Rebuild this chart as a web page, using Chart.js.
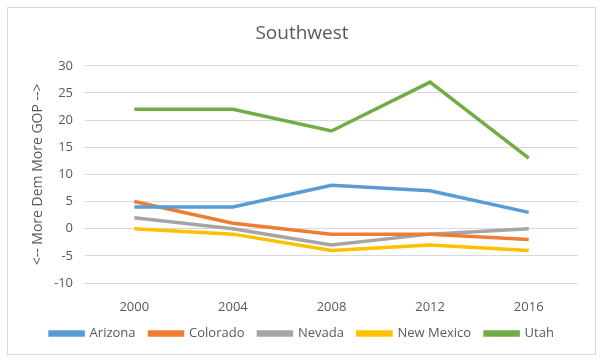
<!DOCTYPE html>
<html>
<head>
<meta charset="utf-8">
<script src="https://cdn.jsdelivr.net/npm/chart.js"></script>
<style>
  body { margin: 0; background: #fff; }
  #wrap { position: relative; width: 600px; height: 361px; }
  #frame { position: absolute; left: 7px; top: 7px; width: 587px; height: 346px; border: 1px solid #d9d9d9; pointer-events: none; }
</style>
</head>
<body>
<div id="wrap">
  <canvas id="chart" width="600" height="361"></canvas>
  <div id="frame"></div>
</div>
<script>
// Dados do gráfico
const years = ['2000', '2004', '2008', '2012', '2016'];
const arizona = [4, 4, 8, 7, 3];
const colorado = [5, 1, -1, -1, -2];
const nevada = [2, 0, -3, -1, 0];
const newMexico = [0, -1, -4, -3, -4];
const utah = [22, 22, 18, 27, 13];

const textColor = '#595959';
const fontFamily = '"Open Sans", "Liberation Sans", sans-serif';

function serie(label, data, color) {
    return {
        label: label,
        data: data,
        borderColor: color,
        backgroundColor: color,
        borderWidth: 3.5,
        pointRadius: 0,
        tension: 0
    };
}

new Chart(document.getElementById('chart'), {
    type: 'line',
    data: {
        labels: years,
        datasets: [
            serie('Arizona', arizona, '#5b9bd5'),
            serie('Colorado', colorado, '#ed7d31'),
            serie('Nevada', nevada, '#a5a5a5'),
            serie('New Mexico', newMexico, '#ffc000'),
            serie('Utah', utah, '#70ad47')
        ]
    },
    options: {
        responsive: false,
        animation: false,
        layout: { padding: { left: 26, right: 22, top: 0, bottom: 11 } },
        plugins: {
            title: {
                display: true,
                text: 'Southwest',
                color: textColor,
                font: { family: fontFamily, size: 19, weight: 'normal' },
                padding: { top: 22, bottom: 21 }
            },
            legend: {
                position: 'bottom',
                labels: {
                    color: textColor,
                    font: { family: fontFamily, size: 13 },
                    boxWidth: 33,
                    boxHeight: 3,
                    padding: 14
                }
            },
            tooltip: { enabled: false }
        },
        scales: {
            x: {
                offset: true,
                grid: { display: false },
                border: { display: false },
                ticks: { color: textColor, font: { family: fontFamily, size: 13 }, padding: 8 },
                afterFit: function(s) { s.height = 30; }
            },
            y: {
                min: -10,
                max: 30,
                ticks: { stepSize: 5, color: textColor, font: { family: fontFamily, size: 13 }, padding: 12 },
                grid: { color: '#d9d9d9', drawTicks: false },
                border: { display: false },
                title: {
                    display: true,
                    text: '<-- More Dem More GOP -->',
                    color: textColor,
                    font: { family: fontFamily, size: 14 },
                    padding: 4
                },
                afterFit: function(s) { s.width = 59; }
            }
        }
    }
});
</script>
</body>
</html>
